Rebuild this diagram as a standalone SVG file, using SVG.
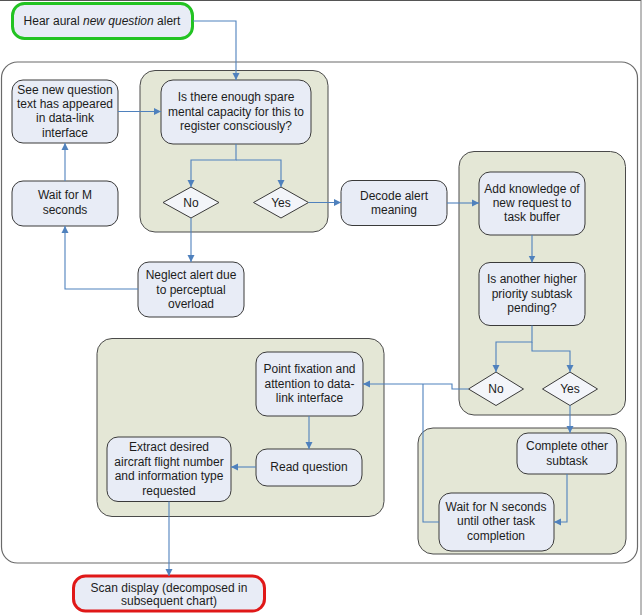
<svg xmlns="http://www.w3.org/2000/svg" width="643" height="615" viewBox="0 0 643 615">
<defs>
<style>
.node{fill:#e8ecf6;stroke:#3a3a3a;stroke-width:1}
.dia{fill:#f3f5f9;stroke:#3a3a3a;stroke-width:1}
.grp{fill:#e4e7d6;stroke:#4a4a4a;stroke-width:1}
.frame{fill:#ffffff;stroke:#6a6a6a;stroke-width:1.2}
.edge{fill:none;stroke:#4f81bd;stroke-width:1.1}
text{font-family:"Liberation Sans",Arial,sans-serif;font-size:12px;fill:#1c1c1c;text-anchor:middle}
</style>
<marker id="ah" markerWidth="8" markerHeight="8" refX="7" refY="4" orient="auto" markerUnits="userSpaceOnUse">
<path d="M0,0.5 L7,4 L0,7.5 Z" fill="#4f81bd"/>
</marker>
</defs>
<rect width="643" height="615" fill="#ffffff"/>
<line x1="0" y1="0.5" x2="641" y2="0.5" stroke="#555" stroke-width="1"/>
<line x1="641" y1="0" x2="641" y2="615" stroke="#777" stroke-width="1"/>

<g id="frame"><rect class="frame" x="1.5" y="62" width="636" height="501" rx="16"/></g>
<g id="group-capacity"><rect class="grp" x="140" y="70.5" width="188" height="161.5" rx="15"/></g>
<g id="group-buffer"><rect class="grp" x="459" y="151.5" width="166.5" height="263.5" rx="15"/></g>
<g id="group-subtask"><rect class="grp" x="418" y="428" width="208" height="126" rx="15"/></g>
<g id="group-read"><rect class="grp" x="97" y="338.5" width="287" height="178" rx="15"/></g>

<g id="start">
<rect x="12.5" y="3.5" width="180" height="35" rx="12" fill="#e8ecf6" stroke="#22c322" stroke-width="3"/>
<text x="102" y="25">Hear aural <tspan font-style="italic">new question</tspan> alert</text>
</g>
<g id="see-text">
<rect class="node" x="12" y="80" width="106" height="63" rx="11"/>
<text x="65" y="94">See new question</text><text x="65" y="108">text has appeared</text><text x="65" y="122">in data-link</text><text x="65" y="137">interface</text>
</g>
<g id="capacity">
<rect class="node" x="161" y="80" width="150" height="64" rx="12"/>
<text x="236" y="101">Is there enough spare</text><text x="236" y="116">mental capacity for this to</text><text x="236" y="130">register consciously?</text>
</g>
<g id="wait-m">
<rect class="node" x="12" y="181" width="106" height="45" rx="11"/>
<text x="65" y="199">Wait for M</text><text x="65" y="214">seconds</text>
</g>
<g id="no1">
<polygon class="dia" points="191,187 219,202.5 191,218 163,202.5"/>
<text x="191" y="207">No</text>
</g>
<g id="yes1">
<polygon class="dia" points="281,187 308.5,202.5 281,218 253.5,202.5"/>
<text x="281" y="207">Yes</text>
</g>
<g id="decode">
<rect class="node" x="341" y="180.5" width="106" height="45" rx="11"/>
<text x="394" y="200">Decode alert</text><text x="394" y="214">meaning</text>
</g>
<g id="neglect">
<rect class="node" x="138" y="262" width="106" height="55" rx="11"/>
<text x="191" y="279">Neglect alert due</text><text x="191" y="294">to perceptual</text><text x="191" y="308">overload</text>
</g>
<g id="add-knowledge">
<rect class="node" x="479" y="172" width="106" height="63" rx="11"/>
<text x="532" y="193">Add knowledge of</text><text x="532" y="207">new request to</text><text x="532" y="221">task buffer</text>
</g>
<g id="higher-priority">
<rect class="node" x="479" y="262.5" width="106" height="63" rx="11"/>
<text x="532" y="283">Is another higher</text><text x="532" y="298">priority subtask</text><text x="532" y="312">pending?</text>
</g>
<g id="no2">
<polygon class="dia" points="496,372 523.5,389 496,405.5 468.5,389"/>
<text x="496" y="393">No</text>
</g>
<g id="yes2">
<polygon class="dia" points="570,372 597.5,389 570,405.5 542.5,389"/>
<text x="570" y="393">Yes</text>
</g>
<g id="point-fixation">
<rect class="node" x="256" y="352" width="107" height="64" rx="11"/>
<text x="309.5" y="373">Point fixation and</text><text x="309.5" y="388">attention to data-</text><text x="309.5" y="402">link interface</text>
</g>
<g id="read-question">
<rect class="node" x="256" y="449" width="106" height="37" rx="11"/>
<text x="309" y="471">Read question</text>
</g>
<g id="extract">
<rect class="node" x="107" y="437" width="124" height="64.5" rx="11"/>
<text x="169" y="451">Extract desired</text><text x="169" y="466">aircraft flight number</text><text x="169" y="480">and information type</text><text x="169" y="495">requested</text>
</g>
<g id="complete-other">
<rect class="node" x="517" y="433" width="100" height="41" rx="11"/>
<text x="567" y="450">Complete other</text><text x="567" y="465">subtask</text>
</g>
<g id="wait-n">
<rect class="node" x="439" y="493" width="115" height="58" rx="12"/>
<text x="496" y="511">Wait for N seconds</text><text x="496" y="525">until other task</text><text x="496" y="540">completion</text>
</g>
<g id="scan-display">
<rect x="73.5" y="576" width="191" height="35" rx="12" fill="#e8ecf6" stroke="#e01818" stroke-width="3"/>
<text x="169" y="592">Scan display (decomposed in</text><text x="169" y="605">subsequent chart)</text>
</g>

<g id="connectors">
<path class="edge" d="M193,21 H236 V80" marker-end="url(#ah)"/>
<path class="edge" d="M118,111.5 H161" marker-end="url(#ah)"/>
<path class="edge" d="M236,144 V160 H191 V187" marker-end="url(#ah)"/>
<path class="edge" d="M236,160 H281 V187" marker-end="url(#ah)"/>
<path class="edge" d="M308.5,202.5 H341" marker-end="url(#ah)"/>
<path class="edge" d="M191,218 V262" marker-end="url(#ah)"/>
<path class="edge" d="M138,289 H65 V226" marker-end="url(#ah)"/>
<path class="edge" d="M65,181 V143" marker-end="url(#ah)"/>
<path class="edge" d="M447,203 H479" marker-end="url(#ah)"/>
<path class="edge" d="M532,235 V262.5" marker-end="url(#ah)"/>
<path class="edge" d="M532,325.5 V342 H496 V372" marker-end="url(#ah)"/>
<path class="edge" d="M532,342 V351 H570 V372" marker-end="url(#ah)"/>
<path class="edge" d="M468.5,389 H452 V384 H363" marker-end="url(#ah)"/>
<path class="edge" d="M570,405.5 V433" marker-end="url(#ah)"/>
<path class="edge" d="M567,474 V522 H554" marker-end="url(#ah)"/>
<path class="edge" d="M439,522 H423 V384"/>
<path class="edge" d="M309,416 V449" marker-end="url(#ah)"/>
<path class="edge" d="M256,467 H231" marker-end="url(#ah)"/>
<path class="edge" d="M169,501.5 V576" marker-end="url(#ah)"/>
</g>
</svg>
